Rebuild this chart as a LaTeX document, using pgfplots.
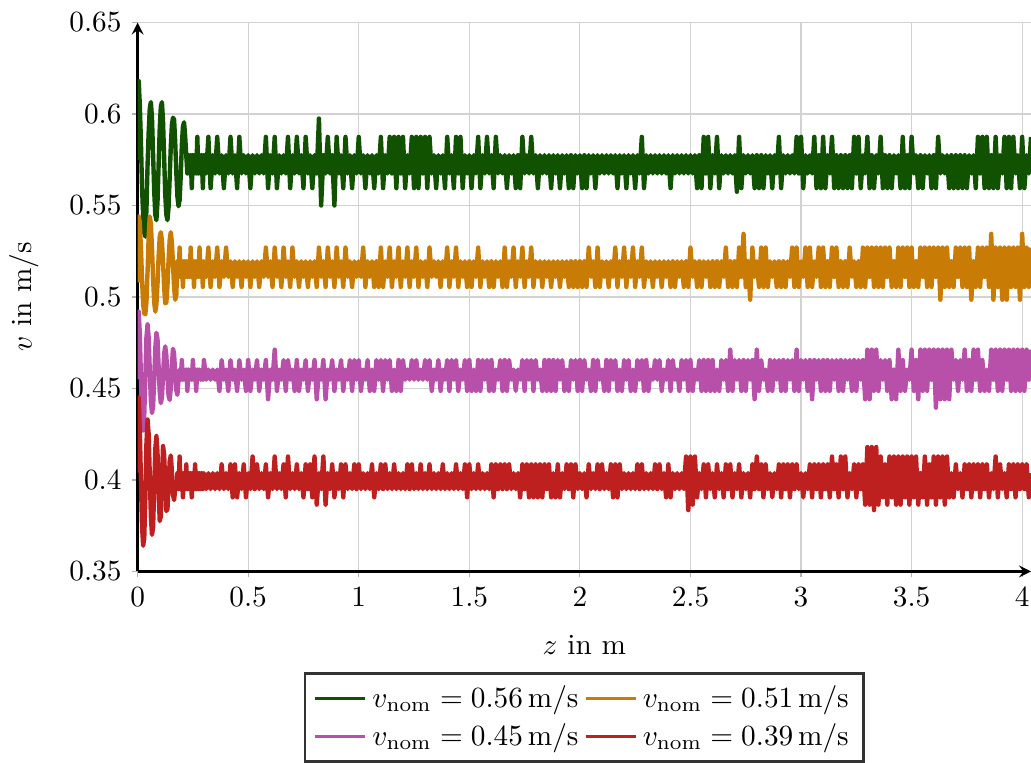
\documentclass[border=0pt]{standalone}
\usepackage{pgfplots}
\usepackage{pgfplotstable}
\pgfplotsset{compat=1.18}

\definecolor{vgreen}{RGB}{17,82,0}
\definecolor{vorange}{RGB}{200,124,6}
\definecolor{vmagenta}{RGB}{184,80,170}
\definecolor{vred}{RGB}{190,32,32}

% measured velocity along the track for four nominal speeds
\pgfplotstableread{
z g o m r
0.000 0.575 0.508 0.455 0.404
0.005 0.618 0.544 0.492 0.445
0.010 0.605 0.540 0.480 0.428
0.015 0.585 0.527 0.456 0.400
0.020 0.560 0.510 0.434 0.375
0.025 0.545 0.496 0.427 0.364
0.030 0.535 0.491 0.435 0.368
0.035 0.533 0.4905 0.457 0.390
0.040 0.548 0.497 0.478 0.420
0.045 0.572 0.514 0.485 0.433
0.050 0.590 0.533 0.478 0.425
0.055 0.603 0.544 0.460 0.403
0.060 0.6065 0.540 0.443 0.380
0.065 0.598 0.527 0.4366 0.370
0.070 0.578 0.510 0.440 0.374
0.075 0.558 0.497 0.455 0.395
0.080 0.545 0.492 0.472 0.417
0.085 0.542 0.496 0.4804 0.424
0.090 0.552 0.507 0.477 0.415
0.095 0.572 0.522 0.462 0.394
0.100 0.592 0.533 0.448 0.3775
0.105 0.604 0.5354 0.442 0.380
0.110 0.6065 0.531 0.445 0.400
0.115 0.596 0.519 0.457 0.4185
0.120 0.576 0.505 0.469 0.414
0.125 0.556 0.4965 0.473 0.398
0.130 0.545 0.497 0.468 0.383
0.135 0.542 0.506 0.456 0.384
0.140 0.549 0.520 0.446 0.397
0.145 0.565 0.531 0.4437 0.410
0.150 0.582 0.5354 0.450 0.4134
0.155 0.594 0.530 0.463 0.405
0.160 0.598 0.518 0.4717 0.392
0.165 0.597 0.505 0.469 0.389
0.170 0.585 0.4985 0.458 0.395
0.175 0.568 0.501 0.449 0.3950
0.180 0.555 0.5195 0.4465 0.4037
0.185 0.5496 0.511 0.4548 0.3950
0.190 0.553 0.527 0.4603 0.4128
0.195 0.566 0.511 0.4548 0.3950
0.200 0.583 0.5195 0.4655 0.4037
0.205 0.593 0.5055 0.4548 0.3905
0.210 0.5955 0.5195 0.4603 0.4037
0.215 0.588 0.511 0.4548 0.3950
0.220 0.5775 0.5195 0.4603 0.4085
0.225 0.5675 0.511 0.4487 0.3950
0.230 0.5775 0.5195 0.4603 0.4037
0.235 0.5675 0.511 0.4548 0.3950
0.240 0.5775 0.527 0.4603 0.4037
0.245 0.5595 0.511 0.4548 0.3905
0.250 0.5775 0.5195 0.4655 0.4037
0.255 0.5675 0.5055 0.4548 0.3950
0.260 0.5775 0.5195 0.4603 0.4085
0.265 0.5675 0.511 0.4487 0.3950
0.270 0.5875 0.5195 0.4603 0.4037
0.275 0.5675 0.511 0.4548 0.3950
0.280 0.5775 0.527 0.4603 0.4037
0.285 0.5675 0.511 0.4548 0.3950
0.290 0.5775 0.5195 0.4603 0.4037
0.295 0.5595 0.5055 0.4548 0.3950
0.300 0.5775 0.5195 0.4655 0.4037
0.31 0.5675 0.5110 0.4548 0.3950
0.32 0.5875 0.5270 0.4603 0.4037
0.33 0.5595 0.5055 0.4548 0.3950
0.34 0.5775 0.5195 0.4603 0.4037
0.35 0.5675 0.5110 0.4548 0.3950
0.36 0.5875 0.5270 0.4603 0.4037
0.37 0.5675 0.5055 0.4487 0.3950
0.38 0.5775 0.5195 0.4655 0.4085
0.39 0.5595 0.5110 0.4548 0.3950
0.40 0.5775 0.5270 0.4603 0.4037
0.41 0.5675 0.5110 0.4487 0.3950
0.42 0.5875 0.5195 0.4655 0.4085
0.43 0.5675 0.5055 0.4548 0.3905
0.44 0.5775 0.5195 0.4603 0.4085
0.45 0.5595 0.5110 0.4487 0.3905
0.46 0.5875 0.5195 0.4655 0.4037
0.47 0.5675 0.5055 0.4548 0.3950
0.48 0.5775 0.5195 0.4603 0.4085
0.49 0.5675 0.5110 0.4487 0.3905
0.50 0.5775 0.5195 0.4655 0.4037
0.51 0.5595 0.5055 0.4487 0.3950
0.52 0.5775 0.5195 0.4603 0.4128
0.53 0.5675 0.5110 0.4548 0.3950
0.54 0.5775 0.5195 0.4655 0.4085
0.55 0.5675 0.5055 0.4487 0.3950
0.56 0.5775 0.5195 0.4603 0.4037
0.57 0.5675 0.5110 0.4548 0.3950
0.58 0.5875 0.5270 0.4655 0.4085
0.59 0.5595 0.5110 0.4441 0.3905
0.60 0.5775 0.5195 0.4603 0.4037
0.61 0.5675 0.5055 0.4548 0.3950
0.62 0.5875 0.5270 0.4712 0.4128
0.63 0.5595 0.5110 0.4487 0.3950
0.64 0.5775 0.5195 0.4603 0.4037
0.65 0.5675 0.5055 0.4548 0.3950
0.66 0.5775 0.5270 0.4655 0.4085
0.67 0.5675 0.5110 0.4487 0.3905
0.68 0.5875 0.5195 0.4655 0.4128
0.69 0.5595 0.5055 0.4548 0.3950
0.70 0.5775 0.5270 0.4603 0.4037
0.71 0.5675 0.5110 0.4487 0.3950
0.72 0.5875 0.5195 0.4655 0.4085
0.73 0.5675 0.5055 0.4487 0.3950
0.74 0.5775 0.5195 0.4603 0.4037
0.75 0.5595 0.5110 0.4548 0.3905
0.76 0.5875 0.5195 0.4655 0.4085
0.77 0.5675 0.5055 0.4487 0.3950
0.78 0.5775 0.5195 0.4603 0.4085
0.79 0.5595 0.5110 0.4548 0.3905
0.80 0.5775 0.5195 0.4655 0.4128
0.81 0.5675 0.5055 0.4441 0.3865
0.82 0.5975 0.5270 0.4603 0.4037
0.83 0.5500 0.5110 0.4548 0.3950
0.84 0.5775 0.5195 0.4655 0.4128
0.85 0.5675 0.5055 0.4441 0.3865
0.86 0.5875 0.5270 0.4603 0.4037
0.87 0.5675 0.5110 0.4548 0.3950
0.88 0.5775 0.5195 0.4655 0.4085
0.89 0.5500 0.5055 0.4487 0.3905
0.90 0.5875 0.5270 0.4603 0.4037
0.91 0.5675 0.5110 0.4548 0.3950
0.92 0.5775 0.5195 0.4655 0.4085
0.93 0.5595 0.5055 0.4487 0.3905
0.94 0.5875 0.5270 0.4603 0.4085
0.95 0.5675 0.5110 0.4548 0.3950
0.96 0.5775 0.5195 0.4655 0.4037
0.97 0.5595 0.5055 0.4487 0.3950
0.98 0.5775 0.5195 0.4655 0.4085
0.99 0.5675 0.5110 0.4548 0.3950
1.00 0.5875 0.5195 0.4655 0.4085
1.01 0.5675 0.5110 0.4487 0.3950
1.02 0.5775 0.5270 0.4603 0.4037
1.03 0.5595 0.5055 0.4548 0.3950
1.04 0.5775 0.5195 0.4655 0.4037
1.05 0.5675 0.5110 0.4487 0.3950
1.06 0.5775 0.5195 0.4603 0.4085
1.07 0.5595 0.5055 0.4487 0.3905
1.08 0.5775 0.5195 0.4655 0.4037
1.09 0.5675 0.5055 0.4548 0.3950
1.10 0.5875 0.5270 0.4655 0.4085
1.11 0.5595 0.5055 0.4487 0.3950
1.12 0.5775 0.5195 0.4655 0.4085
1.13 0.5675 0.5110 0.4548 0.3950
1.14 0.5875 0.5270 0.4655 0.4037
1.15 0.5675 0.5055 0.4487 0.3950
1.16 0.5875 0.5195 0.4603 0.4085
1.17 0.5595 0.5110 0.4487 0.3950
1.18 0.5875 0.5270 0.4655 0.4037
1.19 0.5675 0.5055 0.4487 0.3950
1.20 0.5875 0.5195 0.4655 0.4037
1.21 0.5595 0.5110 0.4548 0.3950
1.22 0.5775 0.5270 0.4603 0.4085
1.23 0.5675 0.5055 0.4548 0.3950
1.24 0.5875 0.5195 0.4655 0.4085
1.25 0.5595 0.5110 0.4548 0.3950
1.26 0.5875 0.5270 0.4655 0.4037
1.27 0.5595 0.5055 0.4548 0.3950
1.28 0.5875 0.5195 0.4603 0.4085
1.29 0.5675 0.5110 0.4548 0.3950
1.30 0.5875 0.5195 0.4655 0.4037
1.31 0.5595 0.5055 0.4548 0.3950
1.32 0.5875 0.5270 0.4655 0.4085
1.33 0.5675 0.5110 0.4487 0.3950
1.34 0.5775 0.5195 0.4603 0.4037
1.35 0.5595 0.5110 0.4548 0.3950
1.36 0.5775 0.5195 0.4655 0.4037
1.37 0.5675 0.5055 0.4487 0.3950
1.38 0.5775 0.5195 0.4603 0.4085
1.39 0.5595 0.5110 0.4548 0.3950
1.40 0.5875 0.5270 0.4655 0.4037
1.41 0.5675 0.5055 0.4487 0.3950
1.42 0.5775 0.5195 0.4655 0.4037
1.43 0.5595 0.5110 0.4548 0.3950
1.44 0.5875 0.5270 0.4655 0.4085
1.45 0.5675 0.5055 0.4487 0.3950
1.46 0.5875 0.5195 0.4603 0.4037
1.47 0.5595 0.5110 0.4548 0.3950
1.48 0.5775 0.5195 0.4655 0.4085
1.49 0.5675 0.5055 0.4487 0.3905
1.50 0.5775 0.5195 0.4655 0.4085
1.51 0.5595 0.5055 0.4487 0.3950
1.52 0.5775 0.5195 0.4603 0.4037
1.53 0.5675 0.5110 0.4487 0.3950
1.54 0.5875 0.5270 0.4655 0.4085
1.55 0.5595 0.5055 0.4487 0.3950
1.56 0.5775 0.5195 0.4655 0.4037
1.57 0.5675 0.5110 0.4548 0.3950
1.58 0.5875 0.5195 0.4655 0.4037
1.59 0.5675 0.5055 0.4487 0.3950
1.60 0.5775 0.5195 0.4655 0.4085
1.61 0.5595 0.5055 0.4487 0.3905
1.62 0.5875 0.5195 0.4603 0.4085
1.63 0.5675 0.5110 0.4548 0.3950
1.64 0.5775 0.5195 0.4655 0.4085
1.65 0.5675 0.5055 0.4487 0.3950
1.66 0.5775 0.5270 0.4655 0.4085
1.67 0.5595 0.5055 0.4487 0.3950
1.68 0.5775 0.5195 0.4655 0.4085
1.69 0.5675 0.5110 0.4548 0.3950
1.70 0.5775 0.5270 0.4603 0.4037
1.71 0.5595 0.5055 0.4487 0.3950
1.72 0.5775 0.5195 0.4603 0.4037
1.73 0.5595 0.5110 0.4548 0.3905
1.74 0.5875 0.5270 0.4655 0.4085
1.75 0.5675 0.5055 0.4487 0.3950
1.76 0.5775 0.5195 0.4655 0.4085
1.77 0.5675 0.5110 0.4548 0.3905
1.78 0.5875 0.5270 0.4655 0.4085
1.79 0.5675 0.5055 0.4487 0.3905
1.80 0.5775 0.5195 0.4655 0.4085
1.81 0.5595 0.5110 0.4548 0.3905
1.82 0.5775 0.5195 0.4603 0.4085
1.83 0.5675 0.5055 0.4487 0.3905
1.84 0.5775 0.5195 0.4655 0.4085
1.85 0.5675 0.5110 0.4487 0.3950
1.86 0.5775 0.5195 0.4655 0.4085
1.87 0.5595 0.5055 0.4487 0.3905
1.88 0.5775 0.5195 0.4655 0.4037
1.89 0.5675 0.5110 0.4487 0.3905
1.90 0.5775 0.5195 0.4655 0.4085
1.91 0.5595 0.5055 0.4548 0.3905
1.92 0.5775 0.5195 0.4655 0.4037
1.93 0.5675 0.5110 0.4487 0.3950
1.94 0.5775 0.5195 0.4603 0.4085
1.95 0.5595 0.5055 0.4487 0.3950
1.96 0.5775 0.5195 0.4655 0.4085
1.97 0.5595 0.5055 0.4548 0.3905
1.98 0.5775 0.5195 0.4655 0.4085
1.99 0.5675 0.5055 0.4487 0.3950
2.00 0.5775 0.5195 0.4655 0.4037
2.01 0.5595 0.5055 0.4487 0.3950
2.02 0.5775 0.5195 0.4655 0.4037
2.03 0.5595 0.5055 0.4548 0.3905
2.04 0.5775 0.5270 0.4603 0.4085
2.05 0.5675 0.5110 0.4487 0.3950
2.06 0.5775 0.5195 0.4655 0.4037
2.07 0.5595 0.5055 0.4487 0.3950
2.08 0.5775 0.5270 0.4655 0.4085
2.09 0.5675 0.5055 0.4548 0.3950
2.10 0.5775 0.5195 0.4603 0.4085
2.11 0.5675 0.5110 0.4487 0.3950
2.12 0.5775 0.5195 0.4655 0.4037
2.13 0.5675 0.5055 0.4487 0.3950
2.14 0.5775 0.5195 0.4655 0.4085
2.15 0.5675 0.5110 0.4548 0.3905
2.16 0.5775 0.5270 0.4655 0.4085
2.17 0.5595 0.5055 0.4487 0.3905
2.18 0.5775 0.5195 0.4603 0.4085
2.19 0.5675 0.5110 0.4487 0.3950
2.20 0.5775 0.5270 0.4655 0.4037
2.21 0.5595 0.5055 0.4548 0.3950
2.22 0.5775 0.5195 0.4655 0.4037
2.23 0.5675 0.5110 0.4487 0.3950
2.24 0.5775 0.5270 0.4603 0.4037
2.25 0.5595 0.5055 0.4487 0.3950
2.26 0.5775 0.5195 0.4655 0.4085
2.27 0.5675 0.5110 0.4548 0.3950
2.28 0.5875 0.5270 0.4655 0.4085
2.29 0.5595 0.5055 0.4487 0.3950
2.30 0.5775 0.5195 0.4655 0.4037
2.31 0.5675 0.5110 0.4487 0.3950
2.32 0.5775 0.5195 0.4603 0.4037
2.33 0.5675 0.5055 0.4548 0.3950
2.34 0.5775 0.5195 0.4655 0.4085
2.35 0.5675 0.5110 0.4548 0.3950
2.36 0.5775 0.5195 0.4655 0.4085
2.37 0.5675 0.5055 0.4487 0.3950
2.38 0.5775 0.5195 0.4603 0.4037
2.39 0.5675 0.5110 0.4548 0.3905
2.40 0.5775 0.5195 0.4655 0.4085
2.41 0.5595 0.5055 0.4487 0.3905
2.42 0.5775 0.5195 0.4655 0.4037
2.43 0.5675 0.5055 0.4548 0.3950
2.44 0.5775 0.5195 0.4603 0.4037
2.45 0.5675 0.5110 0.4487 0.3950
2.46 0.5775 0.5195 0.4655 0.4037
2.47 0.5675 0.5055 0.4548 0.3950
2.48 0.5775 0.5195 0.4655 0.4128
2.49 0.5675 0.5055 0.4487 0.3835
2.50 0.5775 0.5270 0.4655 0.4128
2.51 0.5675 0.5110 0.4487 0.3865
2.52 0.5775 0.5195 0.4603 0.4128
2.53 0.5595 0.5055 0.4548 0.3905
2.54 0.5775 0.5195 0.4655 0.4037
2.55 0.5595 0.5055 0.4487 0.3950
2.56 0.5875 0.5195 0.4655 0.4085
2.57 0.5675 0.5110 0.4487 0.3905
2.58 0.5875 0.5195 0.4655 0.4085
2.59 0.5595 0.5055 0.4487 0.3950
2.60 0.5775 0.5195 0.4655 0.4037
2.61 0.5675 0.5055 0.4487 0.3905
2.62 0.5875 0.5195 0.4603 0.4085
2.63 0.5595 0.5055 0.4487 0.3950
2.64 0.5775 0.5195 0.4655 0.4037
2.65 0.5675 0.5110 0.4548 0.3905
2.66 0.5775 0.5270 0.4655 0.4085
2.67 0.5675 0.5055 0.4487 0.3950
2.68 0.5775 0.5195 0.4712 0.4085
2.69 0.5675 0.5055 0.4487 0.3905
2.70 0.5775 0.5195 0.4655 0.4037
2.71 0.5575 0.5055 0.4548 0.3950
2.72 0.5875 0.5270 0.4655 0.4085
2.73 0.5595 0.5110 0.4487 0.3905
2.74 0.5775 0.5345 0.4655 0.4037
2.75 0.5675 0.5055 0.4487 0.3950
2.76 0.5775 0.5195 0.4655 0.4037
2.77 0.5675 0.4985 0.4548 0.3905
2.78 0.5775 0.5270 0.4655 0.4085
2.79 0.5595 0.5110 0.4441 0.3950
2.80 0.5775 0.5195 0.4712 0.4128
2.81 0.5595 0.5055 0.4487 0.3950
2.82 0.5775 0.5270 0.4655 0.4085
2.83 0.5595 0.5055 0.4548 0.3905
2.84 0.5775 0.5270 0.4603 0.4085
2.85 0.5675 0.5055 0.4487 0.3950
2.86 0.5775 0.5195 0.4655 0.4037
2.87 0.5595 0.5110 0.4487 0.3905
2.88 0.5775 0.5195 0.4655 0.4037
2.89 0.5675 0.5055 0.4548 0.3950
2.90 0.5875 0.5195 0.4655 0.4085
2.91 0.5595 0.5055 0.4487 0.3905
2.92 0.5775 0.5195 0.4655 0.4085
2.93 0.5675 0.5055 0.4487 0.3950
2.94 0.5775 0.5195 0.4655 0.4085
2.95 0.5675 0.5110 0.4548 0.3905
2.96 0.5775 0.5270 0.4655 0.4085
2.97 0.5675 0.5055 0.4487 0.3950
2.98 0.5875 0.5270 0.4712 0.4085
2.99 0.5675 0.5055 0.4487 0.3950
3.00 0.5875 0.5195 0.4655 0.4037
3.01 0.5595 0.5110 0.4548 0.3905
3.02 0.5775 0.5270 0.4655 0.4037
3.03 0.5675 0.5055 0.4487 0.3950
3.04 0.5775 0.5270 0.4655 0.4085
3.05 0.5675 0.5055 0.4441 0.3905
3.06 0.5875 0.5195 0.4655 0.4085
3.07 0.5595 0.5110 0.4548 0.3950
3.08 0.5775 0.5270 0.4655 0.4085
3.09 0.5595 0.5055 0.4487 0.3905
3.10 0.5875 0.5270 0.4655 0.4085
3.11 0.5595 0.5055 0.4487 0.3950
3.12 0.5775 0.5195 0.4655 0.4085
3.13 0.5675 0.5055 0.4487 0.3905
3.14 0.5875 0.5270 0.4655 0.4128
3.15 0.5595 0.5110 0.4548 0.3950
3.16 0.5775 0.5270 0.4655 0.4085
3.17 0.5595 0.5055 0.4487 0.3905
3.18 0.5775 0.5195 0.4655 0.4128
3.19 0.5595 0.5055 0.4487 0.3950
3.20 0.5775 0.5195 0.4655 0.4128
3.21 0.5595 0.5055 0.4548 0.3905
3.22 0.5775 0.5270 0.4655 0.4037
3.23 0.5595 0.5110 0.4487 0.3950
3.24 0.5875 0.5195 0.4655 0.4085
3.25 0.5675 0.5055 0.4487 0.3905
3.26 0.5875 0.5195 0.4655 0.4085
3.27 0.5595 0.5055 0.4548 0.3950
3.28 0.5775 0.5270 0.4655 0.4085
3.29 0.5675 0.5055 0.4441 0.3865
3.30 0.5875 0.5270 0.4712 0.4180
3.31 0.5595 0.5110 0.4441 0.3865
3.32 0.5775 0.5270 0.4712 0.4180
3.33 0.5595 0.5055 0.4487 0.3835
3.34 0.5775 0.5270 0.4712 0.4180
3.35 0.5675 0.5055 0.4487 0.3865
3.36 0.5875 0.5270 0.4655 0.4128
3.37 0.5595 0.5055 0.4548 0.3905
3.38 0.5775 0.5270 0.4655 0.4085
3.39 0.5595 0.5110 0.4487 0.3865
3.40 0.5775 0.5270 0.4655 0.4128
3.41 0.5595 0.5055 0.4441 0.3905
3.42 0.5775 0.5195 0.4603 0.4128
3.43 0.5675 0.5055 0.4441 0.3865
3.44 0.5775 0.5270 0.4712 0.4128
3.45 0.5595 0.5055 0.4487 0.3865
3.46 0.5875 0.5270 0.4655 0.4128
3.47 0.5595 0.5110 0.4487 0.3905
3.48 0.5775 0.5270 0.4603 0.4128
3.49 0.5595 0.5055 0.4548 0.3865
3.50 0.5875 0.5270 0.4712 0.4128
3.51 0.5675 0.5055 0.4487 0.3905
3.52 0.5775 0.5195 0.4655 0.4128
3.53 0.5595 0.5055 0.4441 0.3865
3.54 0.5775 0.5270 0.4712 0.4037
3.55 0.5595 0.5110 0.4487 0.3905
3.56 0.5775 0.5270 0.4712 0.4128
3.57 0.5675 0.5055 0.4487 0.3865
3.58 0.5775 0.5270 0.4712 0.4085
3.59 0.5595 0.5055 0.4548 0.3905
3.60 0.5775 0.5270 0.4712 0.4128
3.61 0.5595 0.5110 0.4395 0.3865
3.62 0.5875 0.5270 0.4712 0.4128
3.63 0.5675 0.4985 0.4441 0.3905
3.64 0.5775 0.5270 0.4712 0.4128
3.65 0.5675 0.5055 0.4441 0.3865
3.66 0.5775 0.5270 0.4712 0.4128
3.67 0.5595 0.5055 0.4441 0.3905
3.68 0.5775 0.5195 0.4712 0.4037
3.69 0.5595 0.5055 0.4548 0.3905
3.70 0.5775 0.5270 0.4655 0.4085
3.71 0.5595 0.5110 0.4487 0.3950
3.72 0.5775 0.5270 0.4655 0.4037
3.73 0.5595 0.5055 0.4548 0.3905
3.74 0.5775 0.5270 0.4712 0.4085
3.75 0.5595 0.5055 0.4487 0.3950
3.76 0.5775 0.5270 0.4655 0.4085
3.77 0.5675 0.4985 0.4487 0.3905
3.78 0.5775 0.5195 0.4712 0.4085
3.79 0.5595 0.5055 0.4548 0.3950
3.80 0.5875 0.5270 0.4712 0.4085
3.81 0.5675 0.5055 0.4487 0.3905
3.82 0.5875 0.5270 0.4655 0.4085
3.83 0.5595 0.5110 0.4487 0.3950
3.84 0.5875 0.5270 0.4603 0.4085
3.85 0.5595 0.5055 0.4487 0.3905
3.86 0.5775 0.5345 0.4712 0.4037
3.87 0.5595 0.4985 0.4548 0.3950
3.88 0.5875 0.5270 0.4712 0.4128
3.89 0.5595 0.5055 0.4487 0.3905
3.90 0.5775 0.5270 0.4712 0.4085
3.91 0.5675 0.4985 0.4487 0.3950
3.92 0.5875 0.5270 0.4712 0.4037
3.93 0.5595 0.4985 0.4548 0.3905
3.94 0.5875 0.5270 0.4712 0.4085
3.95 0.5595 0.5055 0.4487 0.3950
3.96 0.5875 0.5270 0.4712 0.4085
3.97 0.5675 0.5055 0.4487 0.3905
3.98 0.5775 0.5270 0.4712 0.4085
3.99 0.5595 0.4985 0.4487 0.3950
4.00 0.5875 0.5345 0.4712 0.4085
4.01 0.5595 0.5055 0.4487 0.3950
4.02 0.5775 0.5270 0.4712 0.4085
4.03 0.5675 0.5055 0.4548 0.3905
4.04 0.5875 0.5270 0.4712 0.4037
}\vdata

\begin{document}
\begin{tikzpicture}[trim axis right]
\begin{axis}[
  scale only axis,
  width=305.2pt, height=187.5pt,
  xmin=0, xmax=4.04, ymin=0.35, ymax=0.65,
  axis lines=left,
  axis line style={thick},
  xtick={0,0.5,1,1.5,2,2.5,3,3.5,4},
  ytick={0.35,0.4,0.45,0.5,0.55,0.6,0.65},
  grid=major,
  grid style={gray!35, line width=0.4pt},
  tick align=outside,
  major tick length=2pt,
  tick style={gray!60, thin},
  xlabel={$z$ in m},
  ylabel={$v$ in m/s},
  xlabel shift=2.9pt,
  ylabel shift=3.5pt,
  legend columns=2,
  legend style={at={(0.5,-0.184)}, anchor=north, draw=black!80, line width=0.8pt},
  legend image post style={line width=0.9pt},
  every axis plot/.append style={line width=1.5pt, line join=round},
]
\addplot[vgreen] table[x=z, y=g] {\vdata};
\addlegendentry{$v_{\mathrm{nom}} = 0.56\,\mathrm{m/s}$}
\addplot[vorange] table[x=z, y=o] {\vdata};
\addlegendentry{$v_{\mathrm{nom}} = 0.51\,\mathrm{m/s}$}
\addplot[vmagenta] table[x=z, y=m] {\vdata};
\addlegendentry{$v_{\mathrm{nom}} = 0.45\,\mathrm{m/s}$}
\addplot[vred] table[x=z, y=r] {\vdata};
\addlegendentry{$v_{\mathrm{nom}} = 0.39\,\mathrm{m/s}$}
\end{axis}
% a little room above the top tick label
\path (current axis.north west) ++(0,7.7pt);
\end{tikzpicture}
\end{document}
